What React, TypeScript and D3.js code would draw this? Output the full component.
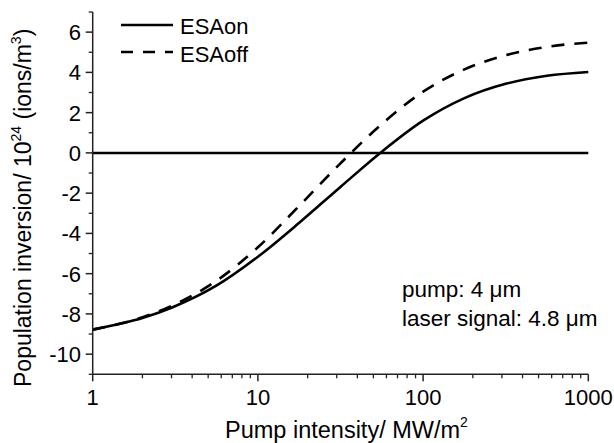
import React from "react";
import * as d3 from "d3";

const W = 614;
const H = 443;

const onIntensity = [1, 1.78, 2, 3, 5.6, 10, 17.8, 31.6, 56.2, 100, 178, 316, 562, 1000];
const onValues = [-8.78, -8.32, -8.2, -7.69, -6.6, -5.16, -3.47, -1.69, 0.06, 1.6, 2.72, 3.43, 3.83, 4.02];

const offIntensity = [1, 1.78, 2, 3, 5.6, 10, 17.8, 31.6, 56.2, 100, 178, 316, 562, 1000];
const offValues = [-8.78, -8.3, -8.17, -7.6, -6.36, -4.69, -2.63, -0.52, 1.43, 3.04, 4.15, 4.85, 5.27, 5.48];

const xTickValues = [1, 10, 100, 1000];
const xTickLabels = ["1", "10", "100", "1000"];
const yTickValues = [-10, -8, -6, -4, -2, 0, 2, 4, 6];
const yTickLabels = ["-10", "-8", "-6", "-4", "-2", "0", "2", "4", "6"];

const seriesNames = ["ESAon", "ESAoff"];
const noteLines = ["pump: 4 \u03bcm", "laser signal: 4.8 \u03bcm"];

const FONT = "'Liberation Sans', Arial, Helvetica, sans-serif";

export default function App() {
  const x = d3.scaleLog().domain([1, 1000]).range([92.7, 588.3]);
  const y = d3.scaleLinear().domain([-11, 7]).range([374.3, 12]);

  const line = d3
    .line<[number, number]>()
    .x((d) => x(d[0]))
    .y((d) => y(d[1]))
    .curve(d3.curveMonotoneX);

  const onPath = line(onIntensity.map((v, i) => [v, onValues[i]] as [number, number])) || "";
  const offPath = line(offIntensity.map((v, i) => [v, offValues[i]] as [number, number])) || "";

  const xMinor: number[] = [];
  for (let dec = 1; dec < 1000; dec *= 10) {
    for (let k = 2; k <= 9; k++) xMinor.push(dec * k);
  }
  const yMinor: number[] = [];
  for (let v = -11; v <= 7; v += 2) yMinor.push(v);

  const x0 = x(1);
  const x1 = x(1000);
  const yB = y(-11);
  const yT = y(7);

  return (
    <svg
      width={W}
      height={H}
      style={{ position: "absolute", left: 0, top: 0, background: "#fff" }}
      fontFamily={FONT}
    >
      <rect x={0} y={0} width={W} height={H} fill="#fff" />
      {/* zero line */}
      <line x1={x0} x2={x1} y1={y(0)} y2={y(0)} stroke="#000" strokeWidth={2.5} />
      {/* curves */}
      <path d={onPath} fill="none" stroke="#000" strokeWidth={2.6} />
      <path d={offPath} fill="none" stroke="#000" strokeWidth={2.6} strokeDasharray="13,10" />

      {/* axes */}
      <line x1={x0} x2={x0} y1={yT} y2={yB} stroke="#222" strokeWidth={1.5} />
      <line x1={x0} x2={x1} y1={yB} y2={yB} stroke="#222" strokeWidth={1.5} />

      {xTickValues.map((v, i) => (
        <g key={"xt" + v}>
          <line x1={x(v)} x2={x(v)} y1={yB} y2={yB + 7} stroke="#222" strokeWidth={1.5} />
          <text x={x(v)} y={405} textAnchor="middle" fontSize={22}>
            {xTickLabels[i]}
          </text>
        </g>
      ))}
      {xMinor.map((v) => (
        <line key={"xm" + v} x1={x(v)} x2={x(v)} y1={yB} y2={yB + 4} stroke="#222" strokeWidth={1.3} />
      ))}

      {yTickValues.map((v, i) => (
        <g key={"yt" + v}>
          <line x1={x0 - 7} x2={x0} y1={y(v)} y2={y(v)} stroke="#222" strokeWidth={1.5} />
          <text x={81} y={y(v)} dy="0.36em" textAnchor="end" fontSize={22}>
            {yTickLabels[i]}
          </text>
        </g>
      ))}
      {yMinor.map((v) => (
        <line key={"ym" + v} x1={x0 - 4} x2={x0} y1={y(v)} y2={y(v)} stroke="#222" strokeWidth={1.3} />
      ))}

      {/* x title */}
      <text x={225} y={438} fontSize={23.5}>
        Pump intensity/ MW/m
        <tspan dy={-11} fontSize={14}>2</tspan>
      </text>

      {/* y title */}
      <text transform="translate(31,387) rotate(-90)" fontSize={23}>
        Population inversion/ 10
        <tspan dy={-10} fontSize={14}>24</tspan>
        <tspan dy={10}> (ions/m</tspan>
        <tspan dy={-10} fontSize={14}>3</tspan>
        <tspan dy={10}>)</tspan>
      </text>

      {/* legend */}
      <line x1={121} x2={173} y1={25} y2={25} stroke="#000" strokeWidth={2.6} />
      <text x={180} y={33.5} fontSize={22}>
        {seriesNames[0]}
      </text>
      <line x1={121} x2={173} y1={52} y2={52} stroke="#000" strokeWidth={2.6} strokeDasharray="12,10" />
      <text x={180} y={61.5} fontSize={22}>
        {seriesNames[1]}
      </text>

      {/* annotation */}
      <text x={402} y={297} fontSize={22.5}>
        {noteLines[0]}
      </text>
      <text x={402} y={326} fontSize={22.5}>
        {noteLines[1]}
      </text>
    </svg>
  );
}
